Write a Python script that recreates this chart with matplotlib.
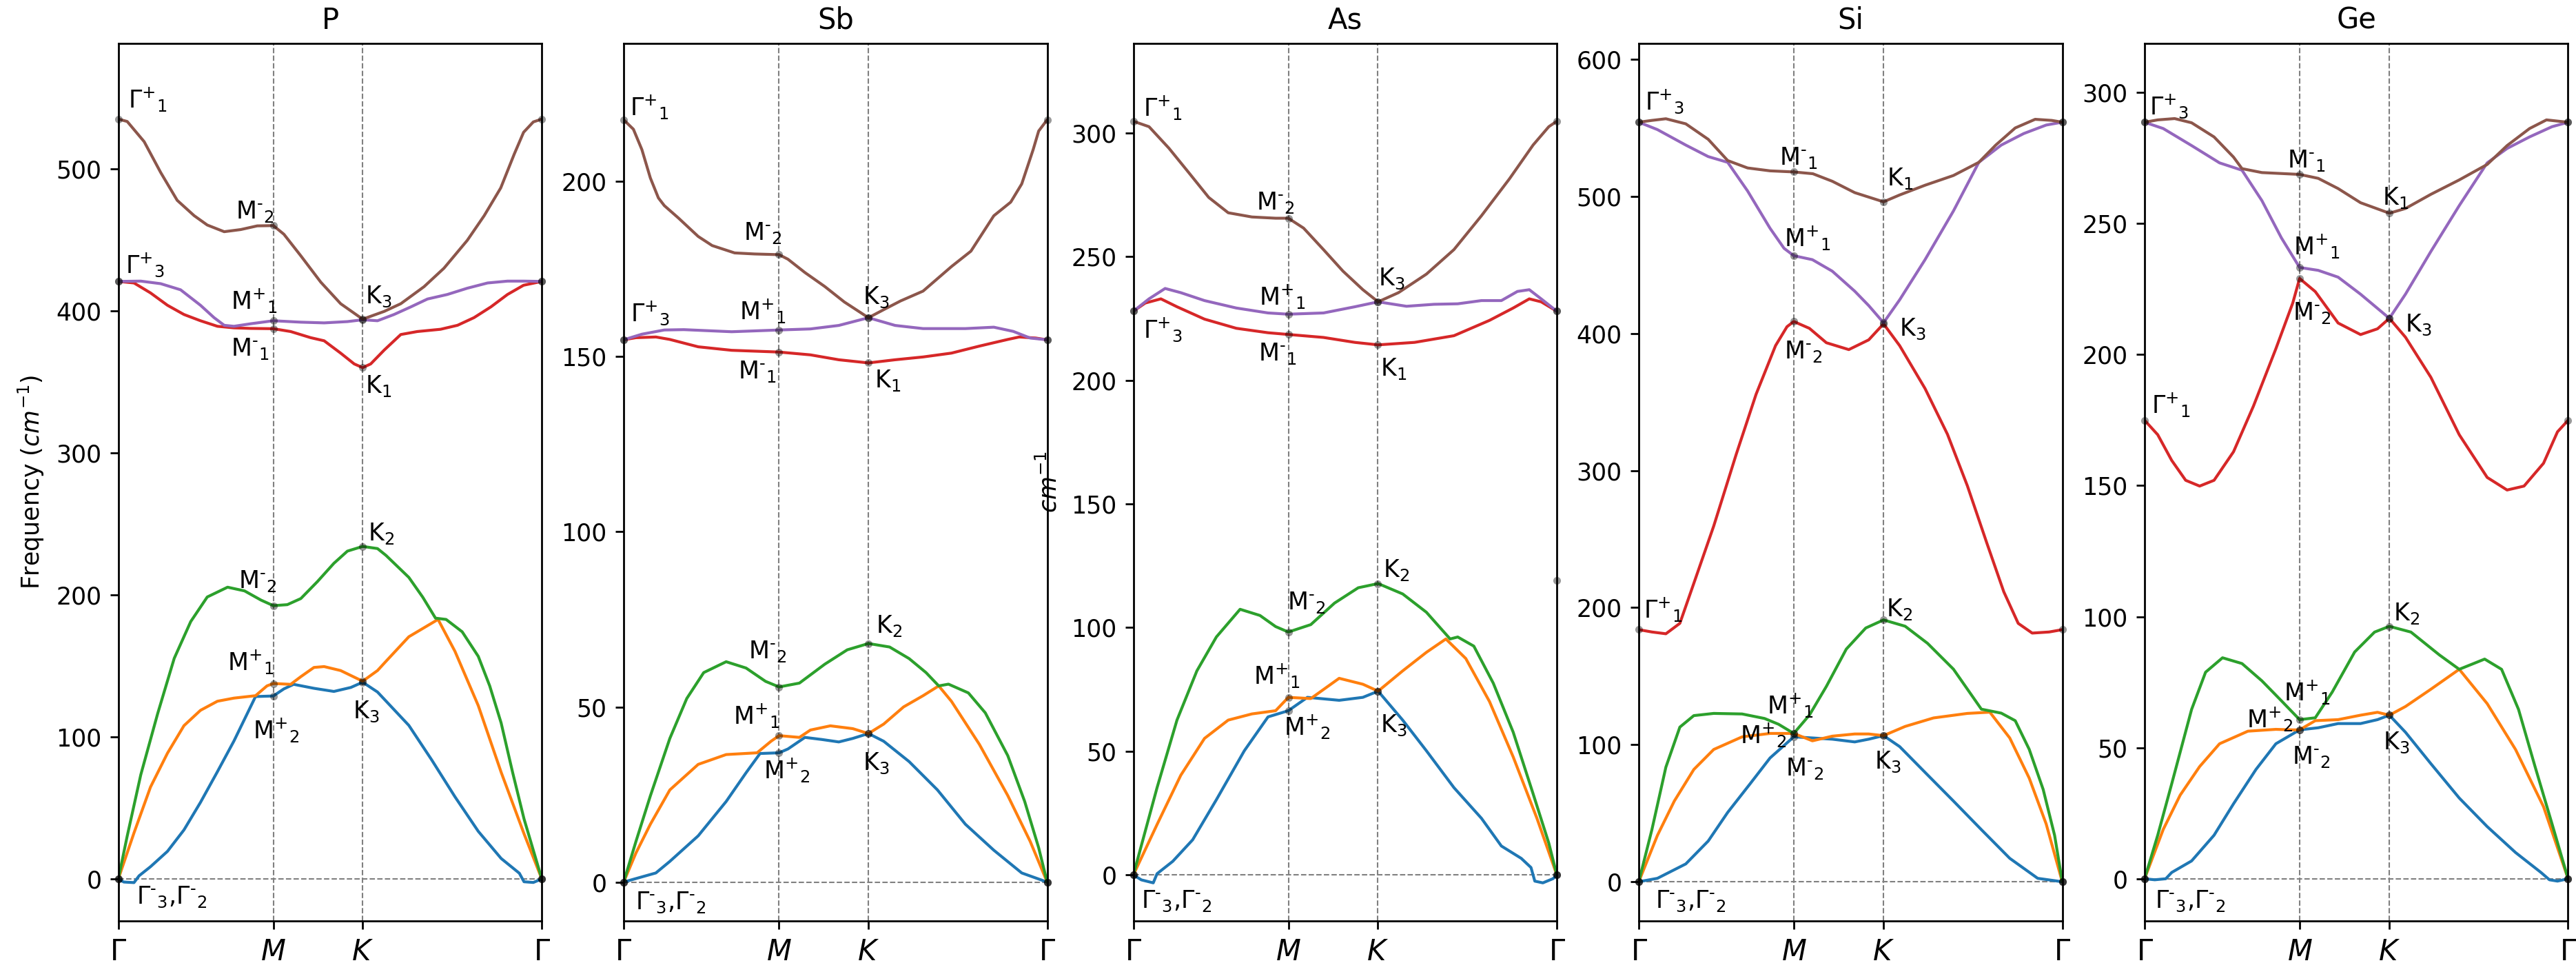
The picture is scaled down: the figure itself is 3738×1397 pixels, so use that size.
import numpy as np
import matplotlib
matplotlib.use('Agg')
import matplotlib.pyplot as plt
from matplotlib.ticker import MultipleLocator

# k-path Gamma - M - K - Gamma, positions as fraction of the path length
path_len = 1 / np.sqrt(3) + 1
k_ticks = [0, (1 / np.sqrt(3)) / path_len, (1 / np.sqrt(3) + 1 / 3) / path_len, 1]
k_labels = [r'$\Gamma$', r'$M$', r'$K$', r'$\Gamma$']

titles = ['P', 'Sb', 'As', 'Si', 'Ge']

# ---------------- P ----------------  (k fraction, frequency cm^-1)
p_blue = [(0, 0), (.013, -2.2), (.037, -2.6), (.049, 2.2), (.076, 8.6), (.116, 19.4), (.155, 34.5),
          (.194, 53.9), (.234, 75.5), (.273, 97.1), (.324, 128.4), (.366, 128.8), (.391, 133.8),
          (.414, 137.0), (.462, 134.2), (.509, 132.0), (.549, 134.8), (.577, 138.5), (.612, 131.6),
          (.686, 108.1), (.740, 83.8), (.795, 57.8), (.850, 33.5), (.904, 14.4), (.947, 4.0),
          (.958, -2.0), (.980, -2.5), (1, 0)]
p_orange = [(0, 0), (.037, 32.4), (.076, 64.7), (.116, 88.5), (.155, 107.9), (.194, 118.7), (.234, 125.1),
            (.273, 127.3), (.324, 129.0), (.351, 135.9), (.366, 137.6), (.407, 137.0), (.431, 142.4),
            (.462, 148.9), (.486, 149.5), (.525, 146.7), (.577, 139.2), (.612, 146.7), (.632, 153.2),
            (.686, 170.5), (.755, 182.7), (.795, 160.2), (.850, 122.0), (.904, 75.1), (.958, 31.8), (1, 0)]
p_green = [(0, 0), (.021, 30.2), (.053, 73.3), (.093, 116.5), (.132, 155.3), (.171, 181.2), (.210, 198.5),
           (.258, 205.4), (.298, 202.8), (.337, 196.3), (.366, 192.4), (.399, 193.1), (.431, 197.4),
           (.470, 209.3), (.509, 222.2), (.541, 230.8), (.577, 234.1), (.612, 232.6), (.632, 227.8),
           (.686, 212.3), (.719, 198.3), (.749, 183.6), (.774, 182.7), (.812, 174.0), (.850, 156.7),
           (.877, 135.9), (.904, 109.8), (.931, 75.1), (.958, 42.3), (1, 0)]
p_red = [(0, 420.7), (.037, 419.6), (.076, 412.6), (.116, 403.9), (.155, 397.4), (.194, 393.0), (.234, 389.1),
         (.273, 388.0), (.313, 387.6), (.366, 387.4), (.407, 385.4), (.454, 381.1), (.486, 378.9),
         (.525, 370.2), (.557, 362.6), (.577, 360.0), (.596, 362.6), (.628, 372.4), (.667, 383.3),
         (.706, 385.4), (.761, 387.0), (.801, 389.8), (.840, 395.2), (.880, 402.8), (.919, 411.5),
         (.957, 418.0), (1, 420.7)]
p_purple = [(0, 420.7), (.053, 420.9), (.100, 419.1), (.147, 414.8), (.194, 403.9), (.226, 395.2),
            (.250, 389.8), (.273, 389.1), (.313, 390.9), (.366, 393.0), (.431, 392.0), (.486, 391.5),
            (.541, 392.4), (.577, 393.7), (.612, 393.0), (.651, 397.4), (.691, 402.8), (.730, 408.3),
            (.777, 411.5), (.824, 415.9), (.872, 419.6), (.919, 420.9), (.957, 420.9), (1, 420.7)]
p_brown = [(0, 535.0), (.021, 533.3), (.061, 519.1), (.100, 497.4), (.139, 477.8), (.179, 467.0),
           (.210, 460.4), (.250, 455.7), (.289, 457.2), (.328, 459.8), (.366, 460.0), (.391, 453.9),
           (.431, 438.7), (.478, 420.2), (.525, 405.0), (.577, 394.1), (.628, 399.6), (.667, 405.0),
           (.722, 417.0), (.769, 430.0), (.824, 449.6), (.864, 467.0), (.903, 486.5), (.935, 510.4),
           (.957, 525.7), (.980, 533.0), (1, 535.0)]

# ---------------- Sb ----------------
sb_blue = [(0, 0), (.029, 1.0), (.076, 2.6), (.109, 5.9), (.176, 13.2), (.242, 23.0), (.289, 31.2),
           (.322, 36.7), (.367, 36.9), (.388, 38.0), (.428, 41.3), (.468, 40.7), (.508, 40.0), (.541, 41.0),
           (.578, 42.4), (.614, 40.2), (.674, 34.4), (.741, 26.3), (.807, 16.5), (.874, 9.1), (.940, 2.6), (1, 0)]
sb_orange = [(0, 0), (.029, 8.3), (.063, 16.5), (.109, 26.3), (.176, 33.6), (.242, 36.4), (.315, 36.9),
             (.348, 40.2), (.367, 41.8), (.415, 41.3), (.441, 43.4), (.488, 44.6), (.541, 43.8), (.578, 42.4),
             (.614, 45.1), (.661, 50.0), (.707, 53.2), (.744, 56.0), (.774, 51.6), (.840, 39.3), (.907, 24.7),
             (.960, 11.6), (1, 0)]
sb_green = [(0, 0), (.029, 11.6), (.063, 24.6), (.109, 41.0), (.149, 52.4), (.189, 59.8), (.242, 62.9),
            (.289, 61.1), (.335, 57.3), (.367, 55.7), (.415, 56.8), (.475, 62.2), (.528, 66.3), (.578, 68.1),
            (.628, 67.1), (.674, 63.8), (.714, 59.8), (.744, 56.0), (.767, 56.5), (.814, 54.0), (.854, 48.3),
            (.907, 36.1), (.947, 23.0), (.980, 9.8), (1, 0)]
sb_red = [(0, 154.8), (.029, 155.4), (.076, 155.6), (.109, 154.9), (.176, 152.8), (.255, 151.8), (.367, 151.3),
          (.441, 150.5), (.508, 149.1), (.578, 148.2), (.641, 149.1), (.707, 149.9), (.774, 151.0),
          (.840, 153.0), (.907, 154.9), (.934, 155.6), (.973, 155.3), (1, 154.8)]
sb_purple = [(0, 154.8), (.043, 156.4), (.096, 157.6), (.142, 157.7), (.255, 157.1), (.367, 157.6),
             (.441, 157.9), (.508, 158.9), (.578, 161.1), (.641, 158.9), (.707, 158.0), (.807, 158.0),
             (.874, 158.4), (.920, 157.2), (.960, 155.3), (1, 154.8)]
sb_brown = [(0, 217.6), (.023, 214.9), (.043, 209.1), (.063, 201.0), (.082, 195.3), (.096, 193.1),
            (.129, 189.6), (.176, 184.3), (.209, 181.7), (.262, 179.6), (.309, 179.3), (.367, 179.1),
            (.388, 177.8), (.428, 174.0), (.475, 170.0), (.521, 165.6), (.578, 161.1), (.614, 163.4),
            (.654, 165.9), (.707, 168.7), (.774, 175.7), (.820, 180.1), (.874, 190.2), (.914, 194.1),
            (.940, 199.3), (.967, 209.1), (.980, 214.4), (1, 217.6)]

# ---------------- As ----------------
as_blue = [(0, 0), (.019, -2.0), (.047, -3.2), (.056, 0.5), (.093, 5.5), (.140, 14.2), (.196, 30.4),
           (.262, 50.2), (.318, 63.9), (.366, 66.4), (.411, 71.8), (.486, 70.6), (.542, 71.8), (.578, 74.3),
           (.636, 62.6), (.692, 50.2), (.757, 35.3), (.822, 22.9), (.869, 11.7), (.916, 6.7), (.939, 3.0),
           (.948, -2.5), (.967, -3.2), (.991, -1.5), (1, 0)]
as_orange = [(0, 0), (.056, 20.4), (.112, 40.3), (.168, 55.2), (.224, 62.6), (.280, 65.1), (.336, 66.4),
             (.366, 71.8), (.419, 71.3), (.486, 79.5), (.542, 77.1), (.578, 74.3), (.636, 82.5), (.692, 90.0),
             (.738, 95.4), (.785, 87.5), (.841, 70.1), (.897, 47.7), (.953, 22.9), (1, 0)]
as_green = [(0, 0), (.056, 35.3), (.103, 62.6), (.150, 82.5), (.196, 96.2), (.252, 107.4), (.299, 104.9),
            (.336, 100.4), (.366, 98.2), (.419, 101.2), (.475, 109.9), (.531, 116.1), (.578, 117.8),
            (.636, 113.6), (.692, 106.2), (.748, 95.4), (.766, 96.2), (.804, 92.5), (.850, 77.5),
            (.897, 57.7), (.944, 32.8), (.981, 12.9), (1, 0)]
as_red = [(0, 227.9), (.028, 231.2), (.065, 232.9), (.103, 229.7), (.168, 224.7), (.243, 221.0), (.318, 219.2),
          (.366, 218.5), (.449, 217.3), (.523, 215.3), (.578, 214.3), (.664, 215.3), (.757, 218.0),
          (.841, 224.2), (.897, 229.2), (.935, 232.9), (.963, 231.7), (1, 227.9)]
as_purple = [(0, 227.9), (.037, 232.9), (.075, 237.1), (.112, 235.4), (.168, 232.2), (.243, 229.2),
             (.318, 227.2), (.366, 226.7), (.449, 227.2), (.523, 229.7), (.578, 231.7), (.645, 229.9),
             (.710, 230.7), (.766, 230.9), (.822, 232.2), (.869, 232.2), (.907, 235.9), (.935, 236.6),
             (.963, 232.9), (1, 227.9)]
as_brown = [(0, 304.7), (.037, 302.5), (.084, 293.8), (.131, 283.9), (.178, 273.9), (.224, 267.7),
            (.280, 266.0), (.336, 265.5), (.366, 265.5), (.402, 261.5), (.449, 252.8), (.495, 244.1),
            (.542, 236.6), (.578, 231.7), (.626, 235.4), (.692, 242.9), (.757, 252.8), (.822, 266.5),
            (.888, 281.4), (.944, 295.1), (.981, 302.5), (1, 304.7)]

# ---------------- Si ----------------
si_blue = [(0, 0), (.044, 2.5), (.111, 13.0), (.164, 29.7), (.210, 50.6), (.263, 71.5), (.310, 90.3),
           (.366, 105.7), (.410, 104.9), (.457, 104.0), (.510, 102.0), (.543, 104.0), (.578, 106.6),
           (.616, 98.6), (.676, 79.8), (.743, 58.9), (.809, 38.0), (.876, 17.1), (.942, 2.5), (1, 0)]
si_orange = [(0, 0), (.044, 33.8), (.084, 58.9), (.130, 81.9), (.177, 96.5), (.244, 105.7), (.310, 108.2),
             (.366, 108.2), (.410, 102.8), (.457, 106.2), (.510, 107.8), (.543, 107.8), (.578, 106.6),
             (.629, 113.3), (.696, 119.5), (.776, 122.8), (.829, 123.7), (.876, 104.9), (.922, 75.6),
             (.962, 42.2), (1, 0)]
si_green = [(0, 0), (.031, 38.0), (.064, 83.6), (.097, 112.8), (.130, 121.2), (.177, 122.8), (.244, 122.4),
            (.297, 119.1), (.330, 114.9), (.366, 108.2), (.403, 121.6), (.443, 142.5), (.490, 169.7),
            (.536, 185.1), (.578, 191.0), (.629, 186.4), (.682, 173.9), (.743, 155.1), (.809, 125.9),
            (.856, 123.0), (.889, 117.5), (.922, 96.6), (.955, 67.3), (.982, 33.8), (1, 0)]
si_red = [(0, 183.9), (.031, 182.2), (.064, 180.9), (.097, 188.5), (.130, 217.7), (.177, 259.5), (.230, 311.7),
          (.277, 355.6), (.323, 391.1), (.350, 404.9), (.366, 408.7), (.403, 403.7), (.443, 393.2),
          (.496, 388.2), (.543, 395.3), (.578, 407.0), (.616, 391.1), (.676, 359.8), (.729, 326.4),
          (.776, 288.8), (.822, 247.0), (.862, 211.5), (.896, 188.5), (.929, 181.4), (.969, 182.2), (1, 183.9)]
si_purple = [(0, 554.1), (.044, 548.7), (.111, 537.4), (.164, 529.0), (.210, 524.8), (.257, 503.9),
             (.310, 476.7), (.343, 462.1), (.366, 456.7), (.410, 453.8), (.457, 445.4), (.510, 430.8),
             (.543, 420.3), (.578, 407.8), (.616, 424.5), (.676, 453.8), (.743, 489.3), (.803, 524.8),
             (.856, 537.4), (.909, 545.8), (.962, 552.0), (1, 554.1)]
si_brown = [(0, 554.1), (.031, 555.4), (.064, 556.6), (.111, 552.9), (.164, 541.6), (.210, 526.1),
            (.257, 520.7), (.310, 518.6), (.366, 517.8), (.411, 516.5), (.457, 511.0), (.510, 502.7),
            (.578, 496.0), (.616, 501.0), (.676, 508.1), (.743, 515.2), (.803, 524.8), (.843, 537.4),
            (.889, 549.9), (.936, 556.2), (.975, 555.4), (1, 554.1)]

# ---------------- Ge ----------------
ge_blue = [(0, 0), (.024, -0.4), (.050, 0), (.064, 2.4), (.111, 6.8), (.164, 16.6), (.210, 28.6),
           (.263, 41.7), (.310, 51.5), (.366, 56.8), (.410, 57.6), (.457, 59.2), (.510, 59.2), (.550, 60.7),
           (.578, 62.4), (.616, 55.9), (.676, 43.9), (.743, 30.8), (.809, 19.9), (.876, 10.0), (.936, 2.4),
           (.956, -0.4), (.975, -0.9), (1, 0)]
ge_orange = [(0, 0), (.044, 18.8), (.084, 31.9), (.130, 42.8), (.177, 51.5), (.244, 56.3), (.310, 57.0),
             (.350, 56.8), (.366, 56.8), (.403, 60.3), (.457, 60.7), (.510, 62.4), (.550, 63.5), (.578, 62.4),
             (.616, 65.7), (.676, 72.3), (.743, 79.9), (.809, 66.8), (.876, 49.3), (.942, 27.5), (1, 0)]
ge_green = [(0, 0), (.031, 16.6), (.064, 36.2), (.111, 64.6), (.144, 78.8), (.184, 84.3), (.230, 82.1),
            (.277, 75.5), (.323, 67.9), (.366, 60.7), (.403, 61.4), (.443, 71.2), (.496, 86.5), (.543, 94.1),
            (.578, 96.3), (.629, 94.1), (.696, 85.4), (.743, 79.9), (.803, 83.8), (.843, 79.9), (.883, 64.6),
            (.922, 42.8), (.962, 21.0), (1, 0)]
ge_red = [(0, 174.9), (.031, 169.4), (.064, 159.6), (.097, 152.0), (.130, 149.8), (.164, 152.0), (.210, 162.9),
          (.257, 180.3), (.310, 202.2), (.350, 219.7), (.366, 229.0), (.403, 224.0), (.457, 212.0),
          (.510, 207.6), (.550, 209.8), (.578, 213.8), (.616, 206.6), (.676, 191.3), (.743, 169.4),
          (.809, 153.1), (.856, 148.3), (.896, 149.8), (.942, 158.5), (.975, 170.5), (1, 174.9)]
ge_purple = [(0, 288.6), (.044, 286.2), (.111, 279.7), (.177, 273.1), (.230, 270.3), (.277, 258.7),
             (.323, 244.5), (.366, 233.2), (.410, 232.1), (.457, 229.5), (.510, 223.0), (.578, 213.8),
             (.616, 223.0), (.676, 239.3), (.743, 256.8), (.809, 273.1), (.856, 278.6), (.909, 283.0),
             (.962, 286.9), (1, 288.6)]
ge_brown = [(0, 288.6), (.031, 289.5), (.071, 290.0), (.111, 288.4), (.164, 283.0), (.210, 275.3),
            (.230, 270.9), (.277, 269.4), (.366, 268.7), (.410, 267.2), (.457, 263.3), (.510, 257.9),
            (.578, 253.9), (.616, 255.7), (.676, 261.1), (.743, 266.6), (.809, 272.5), (.856, 279.7),
            (.909, 286.2), (.949, 289.5), (1, 288.6)]

# irreducible representation labels: (text, k, frequency)
G1p, G3p = 'Γ$^{+}$$_{1}$', 'Γ$^{+}$$_{3}$'
M1p, M2p = 'M$^{+}$$_{1}$', 'M$^{+}$$_{2}$'
M1m, M2m = 'M$^{\\text{-}}$$_{1}$', 'M$^{\\text{-}}$$_{2}$'
K1, K2, K3 = 'K$_{1}$', 'K$_{2}$', 'K$_{3}$'
G32 = 'Γ$^{\\text{-}}$$_{3}$,Γ$^{\\text{-}}$$_{2}$'

p_labels = [(G1p, .024, 543), (G3p, .016, 426.7), (M2m, .277, 465.2), (M1p, .265, 401.1), (M1m, .265, 368.5),
            (K3, .583, 405.4), (K1, .583, 342), (K2, .590, 238.4), (M2m, .283, 205), (M1p, .257, 147.1),
            (K3, .553, 113.3), (M2p, .318, 98.6), (G32, .043, -17.3)]
sb_labels = [(G1p, .015, 218.9), (M2m, .283, 183.3), (K3, .564, 165.1), (G3p, .017, 160.2), (M1p, .273, 160.7),
             (M1m, .270, 143.8), (K1, .592, 141.2), (K2, .596, 71.2), (M2m, .294, 63.8), (M1p, .258, 45.1),
             (K3, .565, 32.0), (M2p, .330, 29.6), (G32, .028, -7.7)]
as_labels = [(G1p, .023, 306.7), (M2m, .290, 269.0), (K3, .579, 238.4), (M1p, .297, 230.4), (G3p, .023, 217.3),
             (M1m, .295, 208.1), (K1, .583, 201.8), (K2, .590, 120.6), (M2m, .364, 107.4), (M1p, .283, 77.1),
             (M2p, .355, 56.4), (K3, .584, 57.7), (G32, .019, -13.2)]
si_labels = [(G3p, .014, 563.7), (M1m, .332, 522.8), (K1, .586, 508.2), (M1p, .344, 463.4), (K3, .615, 398.2),
             (M2m, .344, 381.5), (G1p, .012, 192.6), (K2, .584, 193.5), (M1p, .303, 122.4), (M2p, .239, 100.7),
             (M2m, .347, 77.7), (K3, .557, 82.7), (G32, .039, -19.2)]
ge_labels = [(G3p, .012, 291.7), (M1m, .337, 271.4), (K1, .562, 257.2), (M1p, .351, 238.2), (M2m, .350, 213.1),
             (K3, .615, 208.7), (G1p, .016, 177.7), (K2, .588, 98.5), (M1p, .328, 67.9), (M2p, .241, 57.6),
             (M2m, .348, 43.9), (K3, .563, 49.3), (G32, .025, -11.1)]

bands = [
    [p_blue, p_orange, p_green, p_red, p_purple, p_brown],
    [sb_blue, sb_orange, sb_green, sb_red, sb_purple, sb_brown],
    [as_blue, as_orange, as_green, as_red, as_purple, as_brown],
    [si_blue, si_orange, si_green, si_red, si_purple, si_brown],
    [ge_blue, ge_orange, ge_green, ge_red, ge_purple, ge_brown],
]
labels = [p_labels, sb_labels, as_labels, si_labels, ge_labels]
ylims = [(-29.6, 588.5), (-11.1, 239.5), (-18.6, 336.3), (-28.6, 611.8), (-16.1, 318.8)]
ysteps = [100, 50, 50, 100, 50]

colors = ['tab:blue', 'tab:orange', 'tab:green', 'tab:red', 'tab:purple', 'tab:brown']

W, H, DPI = 3738, 1397, 250
fig = plt.figure(figsize=(W / DPI, H / DPI), dpi=DPI)
lefts = [171.7, 905, 1644.6, 2378, 3112]

for n in range(5):
    ax = fig.add_axes([lefts[n] / W, 61 / H, 614.5 / W, 1273.5 / H])
    for band, c in zip(bands[n], colors):
        k = np.array([p[0] for p in band])
        f = np.array([p[1] for p in band])
        ax.plot(k, f, color=c, lw=1.2, solid_joinstyle='round', solid_capstyle='round')
        for kt in k_ticks:
            i = int(np.argmin(np.abs(k - kt)))
            ax.plot(kt, f[i], 'o', color='k', alpha=0.4, ms=3.2, mew=0, zorder=3, clip_on=False)
    for kt in k_ticks[1:3]:
        ax.axvline(kt, color='grey', ls='--', lw=0.6, zorder=0)
    ax.axhline(0, color='grey', ls='--', lw=0.6, zorder=0)
    for s, kx, fy in labels[n]:
        ax.text(kx, fy, s, fontsize=10)
    ax.set_xlim(0, 1)
    ax.set_ylim(*ylims[n])
    ax.yaxis.set_major_locator(MultipleLocator(ysteps[n]))
    ax.set_xticks(k_ticks)
    ax.set_xticklabels(k_labels, fontsize=12)
    ax.tick_params(axis='y', labelsize=10)
    ax.set_title(titles[n], fontsize=12)
    if n == 0:
        ax.set_ylabel('Frequency ($cm^{-1}$)', fontsize=10)
    if n == 2:
        ax.set_ylabel('$cm^{-1}$', fontsize=10)
        ax.plot(1, 119, 'o', color='k', alpha=0.4, ms=3.2, mew=0, clip_on=False)

fig.savefig('out.png', dpi=DPI)
